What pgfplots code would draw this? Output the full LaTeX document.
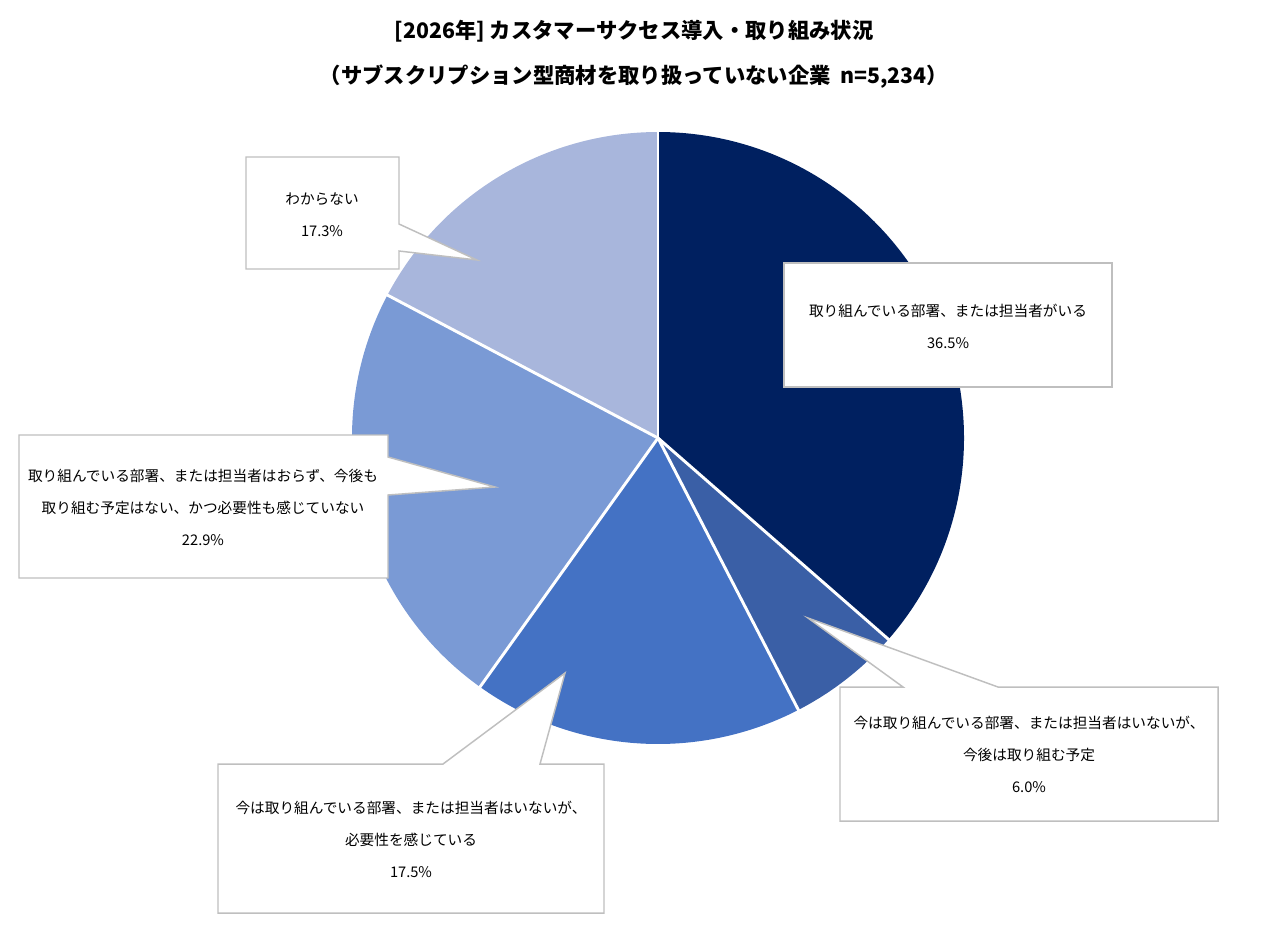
\documentclass[border=0pt]{standalone}
\usepackage{fontspec}
\setmainfont{Noto Sans CJK JP}
\usepackage{pgfplots}
\usepackage{pgfplotstable}
\pgfplotsset{compat=1.18}

\definecolor{s0}{HTML}{002060}
\definecolor{s1}{HTML}{3A5FA6}
\definecolor{s2}{HTML}{4472C4}
\definecolor{s3}{HTML}{7A9AD5}
\definecolor{s4}{HTML}{A8B6DC}
\definecolor{bd}{HTML}{BFBFBF}

% shares, clockwise from 12 o'clock
\pgfplotstableread{
idx share
0 36.5
1 6.0
2 17.5
3 22.9
4 17.3
}\piedata

\xdef\tot{0}%
\foreach \i in {0,...,4}{%
  \pgfplotstablegetelem{\i}{share}\of\piedata
  \let\v\pgfplotsretval
  \pgfmathparse{\tot+\v}\xdef\tot{\pgfmathresult}%
}%
\pgfmathparse{360/\tot}\xdef\degper{\pgfmathresult}%
\xdef\cum{0}%
\foreach \i in {0,...,4}{%
  \pgfplotstablegetelem{\i}{share}\of\piedata
  \let\v\pgfplotsretval
  \pgfmathparse{90-\degper*\cum}\expandafter\xdef\csname aS\i\endcsname{\pgfmathresult}%
  \pgfmathparse{\cum+\v}\xdef\cum{\pgfmathresult}%
  \pgfmathparse{90-\degper*\cum}\expandafter\xdef\csname aE\i\endcsname{\pgfmathresult}%
}%

\newcommand{\lbl}{\fontsize{11}{24}\selectfont}
\tikzset{callout/.style={fill=white,draw=bd,line width=1.1pt,line join=miter}}

\begin{document}
\begin{tikzpicture}
\begin{axis}[
    x=0.75pt, y=0.75pt,
    xmin=0, xmax=1280, ymin=0, ymax=940,
    y dir=reverse,
    hide axis, clip=false, scale only axis,
  ]
  \path (axis cs:0,0) rectangle (axis cs:1280,940);

  % slices
  \pgfplotsinvokeforeach{0,...,4}{
    \fill[s#1] (axis cs:658,438) -- ++(\csname aS#1\endcsname:229.5pt)
      arc[start angle=\csname aS#1\endcsname, end angle=\csname aE#1\endcsname, radius=229.5pt] -- cycle;
  }
  \pgfplotsinvokeforeach{0,...,4}{
    \draw[white,line width=2.2pt] (axis cs:658,438) -- ++(\csname aS#1\endcsname:230pt);
  }

  % callouts
  \filldraw[callout] (axis cs:246,157) -- (axis cs:399,157) -- (axis cs:399,224) -- (axis cs:477,260)
    -- (axis cs:399,251) -- (axis cs:399,269) -- (axis cs:246,269) -- cycle;
  \filldraw[callout] (axis cs:784,263) rectangle (axis cs:1112,387);
  \filldraw[callout] (axis cs:19,435) -- (axis cs:388,435) -- (axis cs:388,457) -- (axis cs:495,487)
    -- (axis cs:388,495) -- (axis cs:388,578) -- (axis cs:19,578) -- cycle;
  \filldraw[callout] (axis cs:840,687) -- (axis cs:903,687) -- (axis cs:808,618) -- (axis cs:998,687)
    -- (axis cs:1218,687) -- (axis cs:1218,821) -- (axis cs:840,821) -- cycle;
  \filldraw[callout] (axis cs:218,764) -- (axis cs:443,764) -- (axis cs:565,673) -- (axis cs:540,764)
    -- (axis cs:604,764) -- (axis cs:604,913) -- (axis cs:218,913) -- cycle;

  \node[font=\lbl,align=center] at (axis cs:322,215) {わからない\\17.3\%};
  \node[font=\lbl,align=center] at (axis cs:948,326) {取り組んでいる部署、または担当者がいる\\36.5\%};
  \node[font=\lbl,align=center] at (axis cs:203,507) {取り組んでいる部署、または担当者はおらず、今後も\\取り組む予定はない、かつ必要性も感じていない\\22.9\%};
  \node[font=\lbl,align=center] at (axis cs:1029,754) {今は取り組んでいる部署、または担当者はいないが、\\今後は取り組む予定\\6.0\%};
  \node[font=\lbl,align=center] at (axis cs:411,839) {今は取り組んでいる部署、または担当者はいないが、\\必要性を感じている\\17.5\%};

  % title
  \node[font=\bfseries\fontsize{16}{34}\selectfont,align=center] at (axis cs:634,54)
    {[2026年] カスタマーサクセス導入・取り組み状況\\（サブスクリプション型商材を取り扱っていない企業\ \ n=5,234）};
\end{axis}
\end{tikzpicture}
\end{document}
